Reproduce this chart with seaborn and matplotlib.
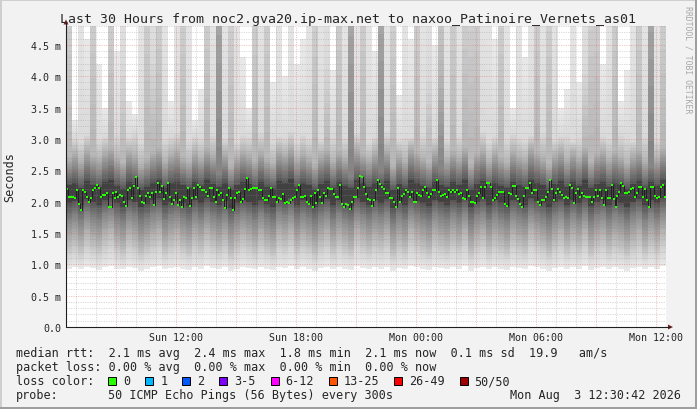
import numpy as np
import matplotlib
matplotlib.use("Agg")
import matplotlib.pyplot as plt
from matplotlib.patches import Rectangle, Polygon
from matplotlib.lines import Line2D
import seaborn as sns

W, H = 697, 410

# median rtt per step (ms)
median_ms = [
    2.20, 2.08, 2.08, 2.07, 2.05, 2.19, 1.96, 1.86, 2.18, 2.16,
    2.07, 1.99, 2.05, 2.18, 2.22, 2.27, 2.22, 2.07, 2.10, 2.11,
    2.14, 1.92, 1.91, 2.14, 2.05, 2.15, 2.08, 2.10, 2.09, 2.00,
    1.93, 2.18, 2.22, 2.06, 2.25, 2.40, 2.21, 2.09, 2.00, 1.97,
    2.09, 2.13, 2.07, 2.14, 1.95, 2.15, 2.30, 2.15, 2.25, 2.04,
    2.13, 2.30, 2.08, 1.96, 2.03, 2.14, 1.94, 2.03, 1.91, 2.08,
    2.05, 2.21, 1.93, 2.05, 2.22, 2.07, 2.27, 2.23, 2.19, 2.19,
    2.16,
    2.09, 2.22, 2.22, 2.07, 2.00, 2.19, 2.11, 2.14, 2.03, 1.89,
    2.11, 2.22, 2.05, 1.87, 2.05, 2.14, 2.15, 1.99, 2.04, 2.20,
    2.38, 2.18, 2.20, 2.22, 2.22, 2.22, 2.19, 2.18, 2.05, 2.03,
    2.02, 2.09, 2.21, 2.08, 2.07, 2.00, 2.05, 2.04, 2.12, 1.98,
    1.99, 1.98, 2.03, 2.05, 2.08, 2.19, 2.26, 2.08, 2.08, 2.09,
    2.00, 1.96, 2.09, 1.92, 2.14, 1.97, 2.18, 2.07, 1.97, 2.14,
    2.09, 2.22, 2.20, 2.20, 2.12, 2.08, 2.07, 2.27, 1.96, 1.92,
    1.96, 1.94, 1.88, 2.00, 2.08, 2.08, 2.22,
    2.41, 2.39, 2.23, 2.12, 2.04, 2.02, 1.93, 2.02, 2.19, 2.34,
    2.28, 2.23, 2.20, 2.14, 2.14, 2.05, 2.05, 1.99, 1.91, 2.22,
    2.00, 2.09, 2.12, 2.19, 2.15, 2.07, 2.15, 1.99, 2.00, 2.13,
    2.10, 2.09, 2.19, 2.23, 2.14, 2.07, 2.12, 2.18, 2.18, 2.34,
    2.15, 2.09, 2.11, 2.12, 2.07, 2.18, 2.15, 2.18, 2.15, 2.19,
    2.12, 2.14, 2.06, 2.04, 2.18, 2.09, 1.99, 1.99, 1.98, 2.09,
    2.14, 2.24, 2.06, 2.24, 2.30, 2.30, 2.24, 2.02, 2.06, 2.11,
    2.16, 2.15, 2.16, 1.96, 1.93, 2.14, 2.12,
    2.25, 2.25, 2.09, 2.04, 1.96, 1.92, 2.09, 2.21, 2.22, 2.30,
    2.14, 2.18, 2.19, 1.99, 1.94, 2.03, 2.02, 2.08, 2.15, 2.35,
    2.20, 2.02, 2.14, 2.20, 2.15, 2.10, 2.06, 2.07, 2.06, 2.26,
    2.21, 1.97, 2.14, 2.20, 2.07, 2.14, 2.09, 2.07, 2.08, 2.07,
    1.99, 2.08, 2.19, 2.09, 2.18, 2.05, 1.94, 2.19, 2.05, 2.06,
    2.26, 2.04, 1.92, 2.09, 2.15, 2.30, 2.25, 2.14, 2.13, 2.15,
    2.20, 2.22, 2.08, 2.14, 2.24, 2.24, 2.07, 2.20, 2.02, 1.92,
    2.23, 2.24, 2.09, 2.06, 2.07, 2.24, 2.27, 2.08,
]

# smoke: sorted pings per 18 min column, as rank pairs (ms)
min_ms = [
    0.93, 0.95, 0.92, 0.96, 0.94, 0.91, 0.95, 0.97, 0.93, 0.92,
    0.96, 0.94, 0.90, 0.93, 0.95, 0.97, 0.92, 0.94, 0.96, 0.93,
    0.91, 0.95, 0.93, 0.97, 0.94, 0.92, 0.95, 0.90, 0.93, 0.96,
    0.94, 0.92, 0.95, 0.93, 0.91, 0.96, 0.94, 0.97, 0.92, 0.95,
    0.93, 0.90, 0.94, 0.96, 0.92, 0.95, 0.93, 0.91, 0.97, 0.94,
    0.92, 0.95, 0.93, 0.96, 0.90, 0.94, 0.92, 0.97, 0.95, 0.93,
    0.91, 0.96, 0.94, 0.92, 0.95, 0.93, 0.97, 0.90, 0.94, 0.96,
    0.92, 0.95, 0.93, 0.91, 0.96, 0.94, 0.92, 0.97, 0.95, 0.93,
    0.90, 0.94, 0.96, 0.92, 0.95, 0.93, 0.97, 0.91, 0.94, 0.96,
    0.92, 0.95, 0.93, 0.90, 0.94, 0.96, 0.92, 0.95, 0.93, 0.97,
]
r3_lo = [
    1.08, 1.12, 1.05, 1.15, 1.10, 1.06, 1.13, 1.18, 1.09, 1.04,
    1.14, 1.10, 1.03, 1.08, 1.12, 1.17, 1.06, 1.11, 1.15, 1.09,
    1.05, 1.13, 1.08, 1.16, 1.11, 1.07, 1.12, 1.02, 1.09, 1.15,
    1.10, 1.06, 1.13, 1.08, 1.04, 1.14, 1.11, 1.17, 1.07, 1.12,
    1.09, 1.03, 1.10, 1.15, 1.06, 1.13, 1.08, 1.05, 1.16, 1.11,
    1.07, 1.12, 1.09, 1.14, 1.03, 1.10, 1.06, 1.17, 1.12, 1.08,
    1.05, 1.14, 1.10, 1.07, 1.13, 1.09, 1.16, 1.04, 1.11, 1.15,
    1.06, 1.12, 1.08, 1.05, 1.14, 1.10, 1.07, 1.17, 1.12, 1.09,
    1.04, 1.10, 1.15, 1.07, 1.13, 1.08, 1.16, 1.05, 1.11, 1.14,
    1.07, 1.12, 1.09, 1.04, 1.10, 1.15, 1.06, 1.13, 1.08, 1.16,
]
r8_lo = [
    1.35, 1.42, 1.30, 1.48, 1.38, 1.32, 1.45, 1.52, 1.36, 1.28,
    1.46, 1.39, 1.26, 1.34, 1.43, 1.50, 1.31, 1.40, 1.47, 1.36,
    1.29, 1.44, 1.35, 1.49, 1.40, 1.33, 1.42, 1.25, 1.37, 1.46,
    1.39, 1.31, 1.45, 1.34, 1.27, 1.47, 1.40, 1.51, 1.32, 1.43,
    1.36, 1.26, 1.39, 1.48, 1.30, 1.44, 1.35, 1.28, 1.50, 1.40,
    1.32, 1.43, 1.37, 1.47, 1.25, 1.39, 1.31, 1.52, 1.42, 1.35,
    1.28, 1.46, 1.38, 1.32, 1.44, 1.36, 1.50, 1.26, 1.40, 1.47,
    1.31, 1.43, 1.35, 1.28, 1.46, 1.38, 1.32, 1.51, 1.42, 1.36,
    1.26, 1.39, 1.48, 1.32, 1.44, 1.35, 1.50, 1.29, 1.40, 1.46,
    1.32, 1.43, 1.37, 1.27, 1.39, 1.48, 1.31, 1.44, 1.35, 1.50,
]
r15_lo = [
    1.73, 1.79, 1.69, 1.83, 1.76, 1.71, 1.81, 1.85, 1.74, 1.67,
    1.82, 1.77, 1.65, 1.72, 1.80, 1.84, 1.70, 1.78, 1.82, 1.74,
    1.68, 1.80, 1.73, 1.84, 1.77, 1.71, 1.79, 1.64, 1.75, 1.82,
    1.77, 1.70, 1.81, 1.72, 1.66, 1.83, 1.78, 1.85, 1.71, 1.80,
    1.74, 1.65, 1.77, 1.83, 1.69, 1.81, 1.73, 1.67, 1.84, 1.78,
    1.71, 1.80, 1.75, 1.83, 1.64, 1.77, 1.70, 1.85, 1.79, 1.73,
    1.67, 1.82, 1.76, 1.71, 1.81, 1.74, 1.84, 1.65, 1.78, 1.83,
    1.70, 1.80, 1.73, 1.67, 1.82, 1.76, 1.71, 1.85, 1.79, 1.74,
    1.65, 1.77, 1.83, 1.71, 1.81, 1.73, 1.84, 1.68, 1.78, 1.82,
    1.71, 1.80, 1.75, 1.66, 1.77, 1.83, 1.70, 1.81, 1.73, 1.84,
]
r21_lo = [
    1.97, 2.01, 1.94, 2.04, 1.99, 1.95, 2.02, 2.05, 1.98, 1.92,
    2.03, 2.00, 1.91, 1.96, 2.02, 2.05, 1.94, 2.00, 2.03, 1.98,
    1.93, 2.02, 1.97, 2.05, 2.00, 1.95, 2.01, 1.90, 1.98, 2.03,
    2.00, 1.94, 2.02, 1.96, 1.92, 2.04, 2.00, 2.06, 1.95, 2.02,
    1.98, 1.91, 2.00, 2.04, 1.94, 2.02, 1.97, 1.93, 2.05, 2.00,
    1.95, 2.02, 1.98, 2.04, 1.90, 2.00, 1.94, 2.06, 2.01, 1.97,
    1.93, 2.03, 1.99, 1.95, 2.02, 1.98, 2.05, 1.91, 2.00, 2.04,
    1.94, 2.02, 1.97, 1.93, 2.03, 1.99, 1.95, 2.06, 2.01, 1.98,
    1.91, 2.00, 2.04, 1.95, 2.02, 1.97, 2.05, 1.93, 2.00, 2.03,
    1.95, 2.02, 1.98, 1.92, 2.00, 2.04, 1.94, 2.02, 1.97, 2.05,
]
r21_hi = [
    2.26, 2.30, 2.22, 2.33, 2.27, 2.23, 2.31, 2.35, 2.25, 2.20,
    2.32, 2.28, 2.19, 2.24, 2.30, 2.34, 2.22, 2.29, 2.32, 2.26,
    2.21, 2.31, 2.25, 2.34, 2.28, 2.23, 2.30, 2.18, 2.26, 2.32,
    2.28, 2.22, 2.31, 2.24, 2.20, 2.33, 2.29, 2.36, 2.23, 2.30,
    2.26, 2.19, 2.28, 2.33, 2.22, 2.31, 2.25, 2.21, 2.34, 2.29,
    2.23, 2.30, 2.26, 2.33, 2.18, 2.28, 2.22, 2.35, 2.30, 2.25,
    2.21, 2.32, 2.27, 2.23, 2.31, 2.26, 2.34, 2.19, 2.28, 2.33,
    2.22, 2.30, 2.25, 2.21, 2.32, 2.27, 2.23, 2.35, 2.30, 2.26,
    2.19, 2.28, 2.33, 2.23, 2.31, 2.25, 2.34, 2.21, 2.28, 2.32,
    2.23, 2.30, 2.26, 2.20, 2.28, 2.33, 2.22, 2.31, 2.25, 2.34,
]
r15_hi = [
    2.46, 2.52, 2.41, 2.56, 2.48, 2.43, 2.54, 2.59, 2.45, 2.38,
    2.55, 2.50, 2.36, 2.44, 2.52, 2.58, 2.41, 2.51, 2.55, 2.46,
    2.40, 2.53, 2.45, 2.58, 2.50, 2.43, 2.52, 2.35, 2.47, 2.55,
    2.50, 2.41, 2.54, 2.44, 2.38, 2.56, 2.51, 2.60, 2.43, 2.52,
    2.46, 2.36, 2.50, 2.56, 2.41, 2.54, 2.45, 2.39, 2.58, 2.51,
    2.43, 2.53, 2.47, 2.56, 2.35, 2.50, 2.41, 2.60, 2.52, 2.45,
    2.39, 2.55, 2.48, 2.43, 2.54, 2.46, 2.58, 2.36, 2.51, 2.56,
    2.41, 2.53, 2.45, 2.39, 2.55, 2.48, 2.43, 2.60, 2.52, 2.46,
    2.36, 2.50, 2.56, 2.43, 2.54, 2.45, 2.58, 2.40, 2.51, 2.55,
    2.43, 2.53, 2.47, 2.38, 2.50, 2.56, 2.41, 2.54, 2.45, 2.58,
]
r8_hi = [
    2.72, 2.80, 2.66, 2.85, 2.75, 2.69, 2.82, 2.88, 2.71, 2.62,
    2.83, 2.77, 2.60, 2.70, 2.80, 2.87, 2.66, 2.78, 2.84, 2.72,
    2.64, 2.81, 2.71, 2.87, 2.77, 6.00, 2.80, 2.58, 2.73, 2.83,
    2.77, 2.66, 2.82, 2.70, 2.62, 2.85, 2.78, 2.89, 2.69, 2.80,
    2.72, 2.60, 2.77, 2.85, 2.66, 2.82, 2.71, 6.00, 2.87, 2.78,
    2.69, 2.81, 6.00, 2.85, 2.58, 2.77, 2.66, 2.89, 2.80, 2.71,
    2.63, 2.83, 4.00, 2.69, 2.82, 2.72, 2.87, 2.60, 2.78, 2.85,
    2.66, 2.81, 2.71, 2.63, 2.83, 2.75, 2.69, 2.89, 2.80, 2.72,
    2.60, 2.77, 2.85, 2.69, 2.82, 2.71, 2.87, 2.64, 2.78, 2.83,
    2.69, 2.81, 2.73, 2.62, 2.77, 2.85, 2.66, 6.00, 2.71, 2.87,
]
r3_hi = [
    6.00, 3.02, 2.98, 3.08, 6.00, 3.00, 3.05, 6.00, 3.10, 4.20,
    3.04, 3.12, 2.97, 6.00, 4.40, 6.00, 3.01, 3.07, 3.13, 6.00,
    2.99, 3.06, 3.03, 6.00, 3.09, 6.00, 3.02, 6.00, 2.96, 3.08,
    3.05, 6.00, 3.11, 6.00, 2.98, 3.06, 3.03, 3.14, 2.97, 3.08,
    3.02, 6.00, 3.00, 4.30, 3.07, 6.00, 3.04, 6.00, 3.10, 6.00,
    2.97, 3.05, 6.00, 3.12, 6.00, 3.00, 3.06, 3.03, 6.00, 3.09,
    4.10, 3.04, 6.00, 3.01, 6.00, 3.08, 6.00, 6.00, 6.00, 3.13,
    2.98, 3.06, 6.00, 3.02, 3.10, 3.04, 2.99, 3.07, 6.00, 3.11,
    6.00, 3.00, 3.05, 3.08, 2.97, 3.03, 4.20, 6.00, 6.00, 3.06,
    3.02, 6.00, 3.09, 3.04, 2.98, 6.00, 3.07, 6.00, 3.01, 6.00,
]
max_ms = [
    6.0, 3.3, 6.0, 4.6, 6.0, 4.2, 3.5, 6.0, 4.4, 6.0,
    3.6, 3.4, 6.0, 6.0, 6.0, 6.0, 6.0, 3.6, 6.0, 6.0,
    6.0, 3.3, 3.8, 6.0, 6.0, 6.0, 6.0, 6.0, 6.0, 4.3,
    3.5, 6.0, 6.0, 6.0, 3.9, 6.0, 4.0, 6.0, 4.2, 4.6,
    6.0, 6.0, 6.0, 6.0, 4.1, 6.0, 6.0, 6.0, 6.0, 6.0,
    6.0, 4.4, 6.0, 6.0, 6.0, 3.7, 6.0, 4.6, 6.0, 6.0,
    6.0, 4.5, 6.0, 6.0, 6.0, 6.0, 6.0, 6.0, 6.0, 6.0,
    6.0, 4.6, 6.0, 6.0, 3.5, 6.0, 4.3, 6.0, 6.0, 6.0,
    6.0, 6.0, 3.5, 3.8, 6.0, 3.9, 6.0, 6.0, 6.0, 4.2,
    6.0, 6.0, 3.6, 4.1, 6.0, 6.0, 6.0, 6.0, 6.0, 6.0,
]

span_hours = 30
start_hour = 6 + 30 / 60 + 42 / 3600   # Sun 06:30:42, hours since Sun 00:00
label_hours = [12, 18, 24, 30, 36]
hour_labels = ["Sun 12:00", "Sun 18:00", "Mon 00:00", "Mon 06:00", "Mon 12:00"]
ytick_vals = [0.0, 0.5, 1.0, 1.5, 2.0, 2.5, 3.0, 3.5, 4.0, 4.5]
ytick_labels = ["0.0", "0.5 m", "1.0 m", "1.5 m", "2.0 m", "2.5 m",
                "3.0 m", "3.5 m", "4.0 m", "4.5 m"]

title = "Last 30 Hours from noc2.gva20.ip-max.net to naxoo_Patinoire_Vernets_as01"
row_rtt = "median rtt:  2.1 ms avg  2.4 ms max  1.8 ms min  2.1 ms now  0.1 ms sd  19.9   am/s"
row_loss = "packet loss: 0.00 % avg  0.00 % max  0.00 % min  0.00 % now"
loss_labels = ["0", "1", "2", "3-5", "6-12", "13-25", "26-49", "50/50"]
loss_colors = ["#26ff00", "#00b8ff", "#0059ff", "#7e00ff", "#ff00ff",
               "#ff5500", "#ff0000", "#a10000"]
probe_text = "50 ICMP Echo Pings (56 Bytes) every 300s"
stamp = "Mon Aug  3 12:30:42 2026"

sns.set_style("white")
plt.rcParams['font.family'] = ['DejaVu Sans Mono']

fig = plt.figure(figsize=(W / 100, H / 100), dpi=100, facecolor="#f2f2f2")
ax = fig.add_axes([66 / W, 1 - 328 / H, 600 / W, 301 / H])
ax.set_facecolor("white")


def smoke_grey(rank):
    # smokeping shade: outer pings light, inner pings dark (25 pairs)
    g = (50 + 190 * (25 - rank) / 25) / 255
    return (g, g, g)


# smoke layers, drawn outer -> inner with a shade ramp between known ranks
n = len(max_ms)
edges = np.arange(n + 1) * span_hours / n
rank_pairs = [(1, min_ms, max_ms), (3, r3_lo, r3_hi), (8, r8_lo, r8_hi),
              (15, r15_lo, r15_hi), (21, r21_lo, r21_hi)]
steps = 8
for (ra, lo_a, hi_a), (rb, lo_b, hi_b) in zip(rank_pairs[:-1], rank_pairs[1:]):
    lo_a, hi_a, lo_b, hi_b = map(np.asarray, (lo_a, hi_a, lo_b, hi_b))
    for j in range(steps):
        f = j / steps
        lo = lo_a + (lo_b - lo_a) * f
        hi = hi_a + (hi_b - hi_a) * f
        ax.fill_between(edges, np.append(lo, lo[-1]), np.append(hi, hi[-1]),
                        step="post", color=smoke_grey(ra + (rb - ra) * f),
                        linewidth=0, zorder=1)
lo, hi = np.asarray(r21_lo), np.asarray(r21_hi)
ax.fill_between(edges, np.append(lo, lo[-1]), np.append(hi, hi[-1]), step="post",
                color=smoke_grey(23), linewidth=0, zorder=1)

t_med = (np.arange(len(median_ms)) + 0.5) * span_hours / len(median_ms)
sns.lineplot(x=t_med, y=median_ms, drawstyle="steps-mid", color="#202020",
             linewidth=0.7, ax=ax, zorder=3)
sns.scatterplot(x=t_med, y=median_ms, marker="s", s=4, color="#26ff00",
                linewidth=0, ax=ax, zorder=4)

ax.set_xlim(0, span_hours)
ax.set_ylim(0, 4.8)
ax.set_yticks(ytick_vals)
ax.set_yticklabels(ytick_labels)
ax.set_yticks(np.arange(0, 4.81, 0.1), minor=True)

major_h = [h for h in range(7, 37) if h % 3 == 0]
ax.set_xticks([h - start_hour for h in major_h])
ax.set_xticklabels([hour_labels[label_hours.index(h)] if h in label_hours else ""
                    for h in major_h])
ax.set_xticks([h - start_hour for h in range(7, 37)], minor=True)

ax.set_axisbelow(False)
ax.grid(which="minor", color="#8f8f8f", alpha=0.45, linewidth=0.6, linestyle=(0, (1.2, 1.6)))
ax.grid(which="major", color="#de4f4f", alpha=0.45, linewidth=0.6, linestyle=(0, (1.2, 1.6)))
ax.tick_params(which="both", direction="out", color="#1f1f1f", width=0.7,
               labelsize=7.2, pad=1.5)
ax.tick_params(which="major", length=2)
ax.tick_params(which="minor", length=1)
ax.set_xlabel("")
ax.set_ylabel("")
for s in ax.spines.values():
    s.set_visible(False)


def px(x, y):
    return x / W, 1 - y / H


# axes with arrows
fig.add_artist(Line2D([66 / W, 66 / W], [1 - 328 / H, 1 - 24 / H], color="#1f1f1f", lw=0.8))
fig.add_artist(Line2D([66 / W, 670 / W], [1 - 328 / H, 1 - 328 / H], color="#1f1f1f", lw=0.8))
fig.add_artist(Polygon([px(63.5, 25.5), px(68.5, 25.5), px(66, 20.5)], closed=True,
                       color="#801f1f", lw=0))
fig.add_artist(Polygon([px(668, 325.5), px(668, 330.5), px(673, 328)], closed=True,
                       color="#801f1f", lw=0))

# 3d frame
fig.add_artist(Rectangle((0, 1 - 2 / H), 1, 2 / H, transform=fig.transFigure, color="#cfcfcf", lw=0))
fig.add_artist(Rectangle((0, 0), 2 / W, 1, transform=fig.transFigure, color="#cfcfcf", lw=0))
fig.add_artist(Rectangle((0, 0), 1, 2 / H, transform=fig.transFigure, color="#9e9e9e", lw=0))
fig.add_artist(Rectangle((1 - 2 / W, 0), 2 / W, 1, transform=fig.transFigure, color="#9e9e9e", lw=0))

fig.text(*px(348, 19), title, ha="center", va="center", fontsize=9.5)
fig.text(*px(10, 177), "Seconds", rotation=90, ha="center", va="center", fontsize=8.5)
fig.text(*px(688, 6), "RRDTOOL / TOBI OETIKER", rotation=270, ha="center", va="top",
         fontsize=5.9, color="#a8a8a8")

cw = 7.11  # legend char width in px
fs = 8.5
fig.text(*px(16, 354), row_rtt, ha="left", va="center", fontsize=fs)
fig.text(*px(16, 368), row_loss, ha="left", va="center", fontsize=fs)
fig.text(*px(16, 382), "loss color:", ha="left", va="center", fontsize=fs)
pos = 13.0
for lab, col in zip(loss_labels, loss_colors):
    bx = 16 + pos * cw
    fig.add_artist(Rectangle(px(bx, 386), 8 / W, 8 / H, transform=fig.transFigure,
                             facecolor=col, edgecolor="black", lw=0.7))
    fig.text(*px(16 + (pos + 2.1) * cw, 382), lab, ha="left", va="center", fontsize=fs)
    pos += 4.2 + len(lab)
fig.text(*px(16, 396), "probe:", ha="left", va="center", fontsize=fs)
fig.text(*px(16 + 13 * cw, 396), probe_text, ha="left", va="center", fontsize=fs)
fig.text(*px(681, 396), stamp, ha="right", va="center", fontsize=fs)

fig.savefig("out.png", dpi=100, facecolor=fig.get_facecolor())
